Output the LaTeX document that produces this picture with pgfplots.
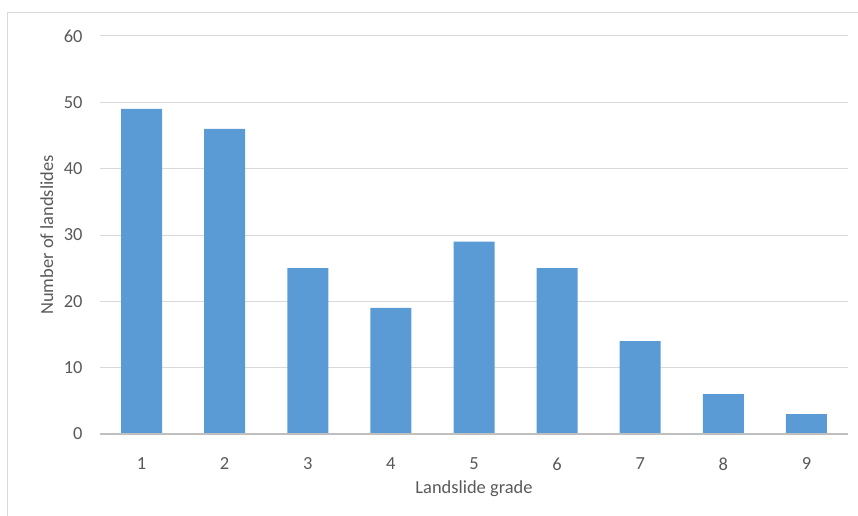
\documentclass[border=0pt]{standalone}
\usepackage{pgfplots}
\pgfplotsset{compat=1.18}
\usepackage{fontspec}
\setmainfont{Carlito}
\definecolor{barblue}{HTML}{5B9BD5}
\definecolor{gridgrey}{HTML}{D9D9D9}
\definecolor{axisgrey}{HTML}{BFBFBF}
\definecolor{textgrey}{HTML}{595959}
\begin{document}
\begin{tikzpicture}[x=1bp,y=1bp]
% canvas and chart frame
\path[use as bounding box] (0,0) rectangle (858,-516);
\draw[gridgrey, line width=1bp] (7,-516) -- (7,-13) -- (858,-13);
\begin{axis}[
  at={(100bp,-434bp)}, anchor=south west,
  scale only axis, width=748bp, height=398bp,
  xmin=0.5, xmax=9.5, ymin=0, ymax=60,
  ytick={0,10,...,60},
  xtick={1,...,9},
  axis line style={draw=none},
  axis x line*=bottom,
  ymajorgrids, grid style={gridgrey, line width=1bp},
  major tick length=0pt,
  tick label style={font=\fontsize{18.5}{21}\selectfont, text=textgrey},
  /pgf/number format/assume math mode=true,
  xticklabel style={anchor=center, yshift=-30bp},
  yticklabel style={anchor=east, xshift=-14bp},
  xlabel={Landslide grade},
  ylabel={Number of landslides},
  label style={font=\fontsize{18.5}{21}\selectfont, text=textgrey},
  xlabel style={at={(axis description cs:0.5,-0.138)}, anchor=center},
  ylabel style={at={(axis description cs:-0.071,0.5)}, anchor=center, rotate=0},
  clip=false,
]
\addplot[ybar, bar width=41bp, fill=barblue, draw=none] coordinates {
  (1,49) (2,46) (3,25) (4,19) (5,29) (6,25) (7,14) (8,6) (9,3)
};
\draw[axisgrey, line width=1.2bp] (axis cs:0.5,0) -- (axis cs:9.5,0);
\end{axis}
\end{tikzpicture}
\end{document}
